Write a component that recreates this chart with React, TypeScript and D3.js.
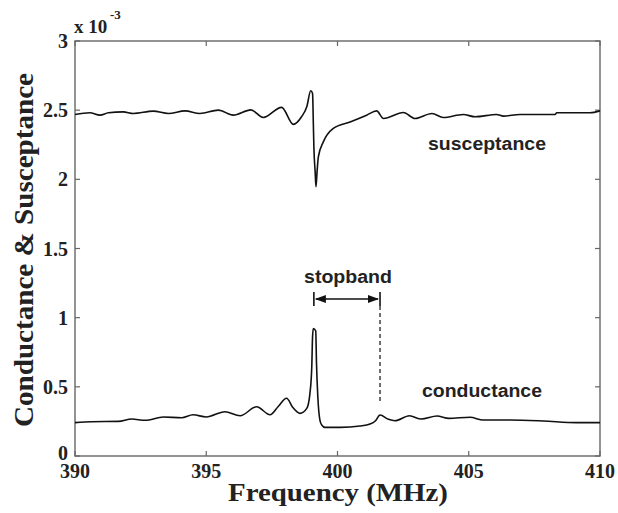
import React from "react";
import * as d3 from "d3";

// Frequency (MHz) and conductance (x 1e-3 S)
const condFreq = [390, 390.63, 391.65, 392.16, 392.67, 393.37, 394.06, 394.5, 395.0, 395.71, 396.29, 396.92, 397.43, 397.75, 398.06, 398.3, 398.57, 398.83, 398.95, 399.02, 399.05, 399.08, 399.17, 399.2, 399.25, 399.33, 399.4, 399.52, 400.1, 400.86, 401.24, 401.45, 401.62, 401.94, 402.19, 402.74, 403.19, 403.79, 404.24, 405.05, 405.55, 406.57, 407.84, 409.1, 410];
const condVal = [0.241, 0.248, 0.25, 0.267, 0.258, 0.282, 0.277, 0.298, 0.282, 0.32, 0.291, 0.356, 0.298, 0.36, 0.417, 0.35, 0.308, 0.344, 0.453, 0.645, 0.862, 0.922, 0.905, 0.67, 0.43, 0.26, 0.224, 0.207, 0.207, 0.217, 0.231, 0.255, 0.296, 0.265, 0.255, 0.291, 0.267, 0.289, 0.272, 0.28, 0.26, 0.26, 0.253, 0.241, 0.241];

// Frequency (MHz) and susceptance (x 1e-3 S)
const suscFreq = [390, 390.57, 390.95, 391.27, 391.84, 392.22, 392.98, 393.56, 394.19, 394.76, 395.46, 396.03, 396.7, 397.17, 397.87, 398.32, 398.63, 398.83, 398.98, 399.05, 399.08, 399.1, 399.15, 399.18, 399.22, 399.27, 399.46, 399.84, 400.48, 401.11, 401.49, 401.75, 402.51, 402.95, 403.6, 404.03, 404.79, 405.24, 406.06, 406.32, 406.95, 408.29, 408.35, 409.62, 410];
const suscVal = [2.469, 2.481, 2.464, 2.481, 2.488, 2.476, 2.493, 2.476, 2.495, 2.476, 2.5, 2.464, 2.502, 2.447, 2.52, 2.397, 2.452, 2.524, 2.64, 2.62, 2.4, 2.235, 2.05, 1.946, 2.05, 2.163, 2.271, 2.368, 2.415, 2.464, 2.495, 2.44, 2.483, 2.44, 2.476, 2.447, 2.469, 2.452, 2.469, 2.457, 2.469, 2.469, 2.481, 2.481, 2.495];

const xTicks = [390, 395, 400, 405, 410];
const yTicks = [0, 0.5, 1, 1.5, 2, 2.5, 3];
const stopbandStart = 399.1;
const stopbandEnd = 401.62;

const W = 618;
const H = 513;
const L = 75, R = 600, T = 41, B = 456;

export default function App() {
  const x = d3.scaleLinear().domain([390, 410]).range([L, R]);
  const y = d3.scaleLinear().domain([0, 3]).range([B, T]);
  const line = d3
    .line<[number, number]>()
    .x((d) => x(d[0]))
    .y((d) => y(d[1]))
    .curve(d3.curveMonotoneX);
  const cond = condFreq.map((f, i) => [f, condVal[i]] as [number, number]);
  const susc = suscFreq.map((f, i) => [f, suscVal[i]] as [number, number]);

  const serif = "'Liberation Serif', 'Times New Roman', serif";
  const sans = "'Liberation Sans', Arial, sans-serif";
  const axisColor = "#666";
  const tickLen = 5;

  const xs = x(stopbandStart);
  const xe = x(stopbandEnd);
  const ay = 299;

  return (
    <svg
      width={W}
      height={H}
      style={{ position: "absolute", left: 0, top: 0, background: "#fff" }}
    >
      {/* ticks */}
      {xTicks.map((t) => (
        <g key={"xt" + t}>
          <line x1={x(t)} x2={x(t)} y1={B} y2={B - tickLen} stroke={axisColor} strokeWidth={1.2} />
          <line x1={x(t)} x2={x(t)} y1={T} y2={T + tickLen} stroke={axisColor} strokeWidth={1.2} />
          <text
            x={x(t)}
            y={478}
            textAnchor="middle"
            fontFamily={serif}
            fontWeight="bold"
            fontSize={20}
            fill="#222"
          >
            {t}
          </text>
        </g>
      ))}
      {yTicks.map((t) => (
        <g key={"yt" + t}>
          <line x1={L} x2={L + tickLen} y1={y(t)} y2={y(t)} stroke={axisColor} strokeWidth={1.2} />
          <line x1={R} x2={R - tickLen} y1={y(t)} y2={y(t)} stroke={axisColor} strokeWidth={1.2} />
          <text
            x={68}
            y={t === 0 ? y(t) + 4 : y(t) + 7}
            textAnchor="end"
            fontFamily={serif}
            fontWeight="bold"
            fontSize={20}
            fill="#222"
          >
            {t}
          </text>
        </g>
      ))}
      {/* axes box */}
      <rect x={L} y={T} width={R - L} height={B - T} fill="none" stroke={axisColor} strokeWidth={1.4} />

      {/* exponent */}
      <text x={74} y={33} fontFamily={serif} fontWeight="bold" fontSize={19} fill="#222">
        x 10
      </text>
      <text x={110} y={19} fontFamily={serif} fontWeight="bold" fontSize={13} fill="#222">
        -3
      </text>

      {/* curves */}
      <path d={line(susc) || ""} fill="none" stroke="#111" strokeWidth={1.6} />
      <path d={line(cond) || ""} fill="none" stroke="#111" strokeWidth={1.6} />

      {/* stopband annotation */}
      <line x1={xs} x2={xs} y1={292} y2={306} stroke="#111" strokeWidth={1.6} />
      <line x1={xe} x2={xe} y1={292} y2={306} stroke="#111" strokeWidth={1.6} />
      <line x1={xs + 2} x2={xe - 2} y1={ay} y2={ay} stroke="#111" strokeWidth={1.5} />
      <path d={`M${xs + 1},${ay} L${xs + 12},${ay - 4} L${xs + 12},${ay + 4} Z`} fill="#111" />
      <path d={`M${xe - 1},${ay} L${xe - 12},${ay - 4} L${xe - 12},${ay + 4} Z`} fill="#111" />
      <line x1={xe} x2={xe} y1={306} y2={403} stroke="#111" strokeWidth={1.2} strokeDasharray="4,3" />

      <text x={304} y={283} fontFamily={sans} fontWeight="bold" fontSize={18} fill="#222" textLength={88} lengthAdjust="spacingAndGlyphs">
        stopband
      </text>
      <text x={428} y={150} fontFamily={sans} fontWeight="bold" fontSize={18} fill="#222" textLength={118} lengthAdjust="spacingAndGlyphs">
        susceptance
      </text>
      <text x={422} y={397} fontFamily={sans} fontWeight="bold" fontSize={18} fill="#222" textLength={120} lengthAdjust="spacingAndGlyphs">
        conductance
      </text>

      {/* axis labels */}
      <text x={228} y={501} fontFamily={serif} fontWeight="bold" fontSize={25} fill="#222" textLength={220} lengthAdjust="spacingAndGlyphs">
        Frequency (MHz)
      </text>
      <text
        transform="translate(33,250) rotate(-90)"
        textAnchor="middle"
        fontFamily={serif}
        fontWeight="bold"
        fontSize={27}
        fill="#222"
        textLength={354}
        lengthAdjust="spacingAndGlyphs"
      >
        Conductance &amp; Susceptance
      </text>
    </svg>
  );
}
